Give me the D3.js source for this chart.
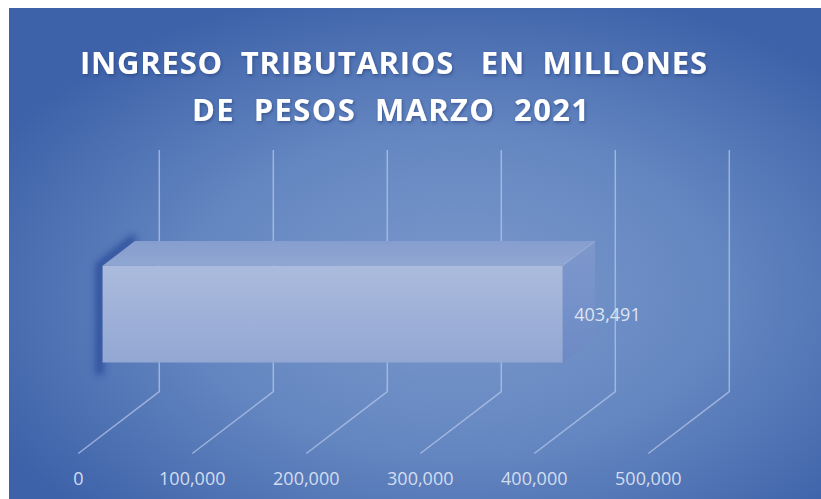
<!DOCTYPE html>
<html>
<head>
<meta charset="utf-8">
<script src="https://cdn.jsdelivr.net/npm/d3@7/dist/d3.min.js"></script>
<style>
  html, body { margin: 0; padding: 0; background: #ffffff; }
  svg { display: block; }
</style>
</head>
<body>
<script>
// ---- data ----
const categories = ["Ingresos tributarios"];
const values = [403491];
const tickValues = [0, 100000, 200000, 300000, 400000, 500000];
const tickLabels = ["0", "100,000", "200,000", "300,000", "400,000", "500,000"];
const titleLines = ["INGRESO  TRIBUTARIOS   EN  MILLONES", "DE  PESOS  MARZO  2021"];

// ---- layout ----
const W = 821, H = 499;
const svg = d3.select("body").append("svg").attr("width", W).attr("height", H);
const defs = svg.append("defs");

// background
const bg = defs.append("radialGradient").attr("id", "bgGrad")
  .attr("cx", "55%").attr("cy", "58%").attr("r", "64%").attr("fx", "55%").attr("fy", "58%");
bg.append("stop").attr("offset", "0%").attr("stop-color", "#7a98cc");
bg.append("stop").attr("offset", "50%").attr("stop-color", "#6587c1");
bg.append("stop").attr("offset", "100%").attr("stop-color", "#3e62a9");

svg.append("rect").attr("x", 9).attr("y", 8).attr("width", W - 9).attr("height", H - 8)
  .attr("fill", "url(#bgGrad)");

// 3D projection: depth vector from front plane to back wall
const depth = { dx: 81, dy: -61.8 };
const floorY = 453.5;   // floor front edge
const wallTop = 150;    // top of back wall

const x = d3.scaleLinear().domain([0, 500000]).range([78.3, 648.3]);
const y = d3.scaleBand().domain(categories)
  .range([wallTop - depth.dy, floorY])
  .paddingInner(0.4286).paddingOuter(0.4286);

const P = (px, py, t) => [px + t * depth.dx, py + t * depth.dy];
const line = pts => "M" + pts.map(p => p.join(",")).join("L");
const poly = pts => line(pts) + "Z";

// gridlines: floor diagonal + back wall vertical
svg.append("g").selectAll("path").data(tickValues).join("path")
  .attr("d", v => line([[x(v), floorY], P(x(v), floorY, 1), [x(v) + depth.dx, wallTop]]))
  .attr("fill", "none")
  .attr("stroke", "#b4c6ea")
  .attr("stroke-opacity", 0.75)
  .attr("stroke-width", 1.5);

// filters
const blur = defs.append("filter").attr("id", "soft").attr("x", "-50%").attr("y", "-50%")
  .attr("width", "200%").attr("height", "200%");
blur.append("feGaussianBlur").attr("stdDeviation", 3.5);

const txtShadow = defs.append("filter").attr("id", "txtShadow").attr("x", "-10%").attr("y", "-30%")
  .attr("width", "120%").attr("height", "160%");
txtShadow.append("feDropShadow").attr("dx", 1).attr("dy", 1.5).attr("stdDeviation", 1.5)
  .attr("flood-color", "#1d3570").attr("flood-opacity", 0.55);

// bar face gradients
const gFront = defs.append("linearGradient").attr("id", "gFront").attr("x1", 0).attr("y1", 0).attr("x2", 0).attr("y2", 1);
gFront.append("stop").attr("offset", "0%").attr("stop-color", "#abbbdd");
gFront.append("stop").attr("offset", "100%").attr("stop-color", "#93a7d3");
const gTop = defs.append("linearGradient").attr("id", "gTop").attr("x1", 0).attr("y1", 1).attr("x2", 0).attr("y2", 0);
gTop.append("stop").attr("offset", "0%").attr("stop-color", "#90a6d2");
gTop.append("stop").attr("offset", "100%").attr("stop-color", "#869ecf");
const gSide = defs.append("linearGradient").attr("id", "gSide").attr("x1", 0).attr("y1", 0).attr("x2", 0).attr("y2", 1);
gSide.append("stop").attr("offset", "0%").attr("stop-color", "#819acd");
gSide.append("stop").attr("offset", "100%").attr("stop-color", "#6c89c5");

// bars
const t0 = 0.3, t1 = 0.7;
const bars = svg.append("g").selectAll("g").data(categories.map((c, i) => ({ c, v: values[i] }))).join("g");

// dark soft edge along the bar's left end
bars.append("path")
  .attr("d", d => {
    const x0 = x(0), yt = y(d.c), yb = y(d.c) + y.bandwidth();
    const a = P(x0 - 3, yb + 12, t0), b = P(x0 - 3, yt, t0), c = P(x0, yt - 4, t1);
    return line([a, b, c]);
  })
  .attr("fill", "none").attr("stroke", "#264a98").attr("stroke-width", 8)
  .attr("stroke-linejoin", "round").attr("filter", "url(#soft)").attr("opacity", 0.85);

bars.append("path").attr("class", "top")
  .attr("d", d => {
    const x0 = x(0), x1 = x(d.v), yt = y(d.c);
    return poly([P(x0, yt, t0), P(x1, yt, t0), P(x1, yt, t1), P(x0, yt, t1)]);
  })
  .attr("fill", "url(#gTop)");

bars.append("path").attr("class", "side")
  .attr("d", d => {
    const x1 = x(d.v), yt = y(d.c), yb = y(d.c) + y.bandwidth();
    return poly([P(x1, yt, t0), P(x1, yt, t1), P(x1, yb, t1), P(x1, yb, t0)]);
  })
  .attr("fill", "url(#gSide)").attr("fill-opacity", 0.85);

// light edge where top meets side
bars.append("path")
  .attr("d", d => line([P(x(d.v), y(d.c), t0), P(x(d.v), y(d.c), t1)]))
  .attr("stroke", "#a9badf").attr("stroke-width", 1).attr("stroke-opacity", 0.7);

bars.append("path").attr("class", "front")
  .attr("d", d => {
    const x0 = x(0), x1 = x(d.v), yt = y(d.c), yb = y(d.c) + y.bandwidth();
    return poly([P(x0, yt, t0), P(x1, yt, t0), P(x1, yb, t0), P(x0, yb, t0)]);
  })
  .attr("fill", "url(#gFront)");

// value label
bars.append("text")
  .attr("x", d => P(x(d.v), 0, 0.5)[0] - 4.5)
  .attr("y", d => P(0, y(d.c) + y.bandwidth() / 2, t0)[1] + 6.5)
  .attr("font-family", "'Open Sans', sans-serif")
  .attr("font-size", 18)
  .attr("fill", "#dde5f3")
  .text(d => d3.format(",")(d.v));

// axis tick labels along the floor front edge
svg.append("g").selectAll("text").data(tickValues).join("text")
  .attr("x", v => x(v))
  .attr("y", 485)
  .attr("text-anchor", "middle")
  .attr("font-family", "'Open Sans', sans-serif")
  .attr("font-size", 18)
  .attr("fill", "#d3ddf0")
  .text((v, i) => tickLabels[i]);

// title
const titleSpec = [
  { y: 74, width: 627, cx: 393.5 },
  { y: 121, width: 397, cx: 390.5 }
];
svg.append("g").attr("filter", "url(#txtShadow)")
  .selectAll("text").data(titleLines).join("text")
  .attr("x", (d, i) => titleSpec[i].cx)
  .attr("y", (d, i) => titleSpec[i].y)
  .attr("text-anchor", "middle")
  .attr("font-family", "'Open Sans', sans-serif")
  .attr("font-weight", "bold")
  .attr("font-size", 31)
  .attr("fill", "#ffffff")
  .attr("textLength", (d, i) => titleSpec[i].width)
  .attr("lengthAdjust", "spacing")
  .style("white-space", "pre")
  .text(d => d);
</script>
</body>
</html>
